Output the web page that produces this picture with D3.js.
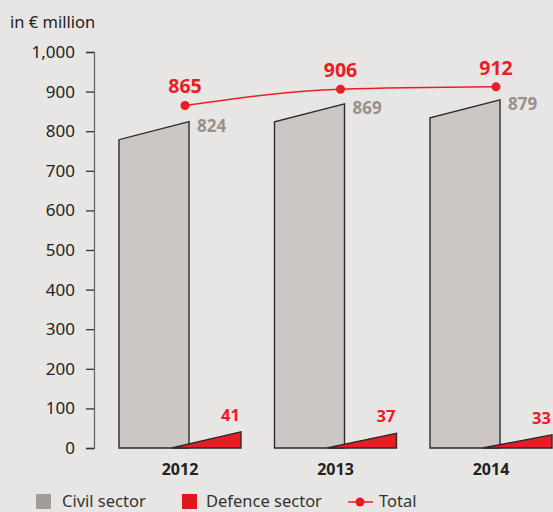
<!DOCTYPE html>
<html>
<head>
<meta charset="utf-8">
<script src="https://cdn.jsdelivr.net/npm/d3@7/dist/d3.min.js"></script>
<style>
  html, body { margin: 0; padding: 0; background: #e8e6e5; }
  svg { display: block; font-family: "Noto Sans", "Open Sans", sans-serif; }
</style>
</head>
<body>
<svg id="chart" width="553" height="512"></svg>
<script>
// Revenue by sector, in € million
const years = ["2012", "2013", "2014"];
const civil = [824, 869, 879];
const defence = [41, 37, 33];
const total = [865, 906, 912];
const yTicks = [0, 100, 200, 300, 400, 500, 600, 700, 800, 900, 1000];

const W = 553, H = 512;
const colors = {
  bg: "#e8e6e5",
  civilFill: "#ccc7c4",
  civilLegend: "#a49c98",
  civilLabel: "#9a908b",
  red: "#ec1c24",
  stroke: "#2b2b2b",
  text: "#222"
};

const svg = d3.select("#chart");
svg.append("rect").attr("width", W).attr("height", H).attr("fill", colors.bg);

const y = d3.scaleLinear().domain([0, 1000]).range([448, 52]);
const x = d3.scalePoint().domain(years).range([180, 491]);
const y0 = y(0);

// Y axis
const axisX = 94;
const axis = svg.append("g")
  .attr("transform", `translate(${axisX},0)`)
  .call(d3.axisLeft(y).tickValues(yTicks).tickSize(8).tickSizeOuter(8)
    .tickPadding(11).tickFormat(d3.format(",")));
axis.select(".domain").attr("stroke", "#666").attr("stroke-width", 1.3);
axis.selectAll(".tick line").attr("stroke", "#333").attr("stroke-width", 1.3);
axis.selectAll(".tick text")
  .attr("font-size", 17).attr("fill", colors.text)
  .attr("font-family", "Noto Sans, sans-serif");

svg.append("text").attr("x", 10).attr("y", 28)
  .attr("font-size", 16.5).attr("fill", colors.text)
  .text("in € million");

// Civil sector: slanted columns, right edge at the value
const slant = 18;
const civilG = svg.append("g");
years.forEach((yr, i) => {
  const cx = x(yr);
  const l = cx - 61, r = cx + 9, top = y(civil[i]);
  civilG.append("path")
    .attr("d", `M${l},${y0}L${l},${top + slant}L${r},${top}L${r},${y0}Z`)
    .attr("fill", colors.civilFill)
    .attr("stroke", colors.stroke).attr("stroke-width", 1.4)
    .attr("stroke-linejoin", "miter");
  civilG.append("text")
    .attr("x", cx + 17).attr("y", top + 10)
    .attr("font-size", 17).attr("font-weight", 700)
    .attr("fill", colors.civilLabel)
    .text(civil[i]);
});

// Defence sector: wedges rising to the value
const defG = svg.append("g");
years.forEach((yr, i) => {
  const cx = x(yr);
  const l = cx - 8.5, r = cx + 61, top = y(defence[i]);
  defG.append("path")
    .attr("d", `M${l},${y0}L${r},${top}L${r},${y0}Z`)
    .attr("fill", colors.red)
    .attr("stroke", colors.stroke).attr("stroke-width", 1.4)
    .attr("stroke-linejoin", "miter");
  defG.append("text")
    .attr("x", r - 1).attr("y", top - 11)
    .attr("text-anchor", "end")
    .attr("font-size", 16.5).attr("font-weight", 700)
    .attr("fill", colors.red)
    .text(defence[i]);
});

// Total line
const pts = years.map((yr, i) => [x(yr) + 5, y(total[i])]);
svg.append("path")
  .attr("d", d3.line().curve(d3.curveMonotoneX)(pts))
  .attr("fill", "none").attr("stroke", colors.red).attr("stroke-width", 1.5);
svg.selectAll("circle.tot").data(pts).join("circle")
  .attr("class", "tot")
  .attr("cx", d => d[0]).attr("cy", d => d[1]).attr("r", 4.5)
  .attr("fill", colors.red);
svg.selectAll("text.tot").data(pts).join("text")
  .attr("class", "tot")
  .attr("x", d => d[0]).attr("y", d => d[1] - 12)
  .attr("text-anchor", "middle")
  .attr("font-size", 19.5).attr("font-weight", 700)
  .attr("fill", colors.red)
  .text((d, i) => total[i]);

// Year labels
svg.selectAll("text.yr").data(years).join("text")
  .attr("class", "yr")
  .attr("x", d => x(d)).attr("y", 475)
  .attr("text-anchor", "middle")
  .attr("font-size", 16).attr("font-weight", 700)
  .attr("fill", colors.text)
  .text(d => d);

// Legend
const lg = svg.append("g");
lg.append("rect").attr("x", 36).attr("y", 494).attr("width", 15).attr("height", 15)
  .attr("fill", colors.civilLegend);
lg.append("text").attr("x", 62).attr("y", 507)
  .attr("font-size", 16.5).attr("fill", "#333").text("Civil sector");
lg.append("rect").attr("x", 182).attr("y", 494).attr("width", 15).attr("height", 15)
  .attr("fill", "#e0161f");
lg.append("text").attr("x", 206).attr("y", 507)
  .attr("font-size", 16.5).attr("fill", "#333").text("Defence sector");
lg.append("line").attr("x1", 348).attr("x2", 373).attr("y1", 502).attr("y2", 502)
  .attr("stroke", colors.red).attr("stroke-width", 1.5);
lg.append("circle").attr("cx", 360).attr("cy", 502).attr("r", 4.5).attr("fill", colors.red);
lg.append("text").attr("x", 379).attr("y", 507)
  .attr("font-size", 16.5).attr("fill", "#333").text("Total");
</script>
</body>
</html>
